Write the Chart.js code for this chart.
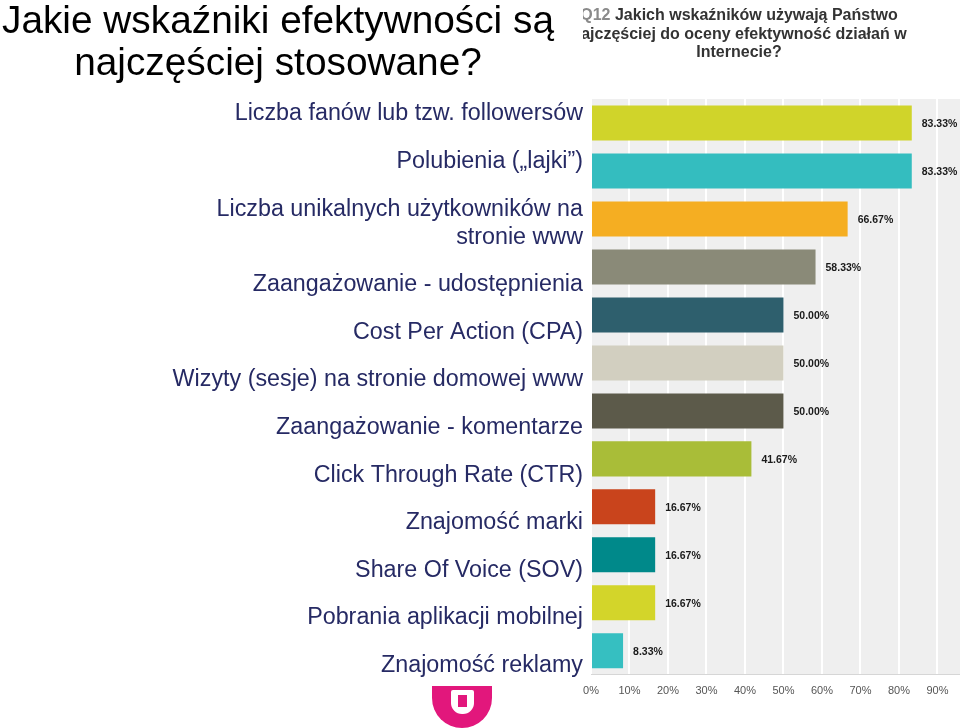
<!DOCTYPE html>
<html>
<head>
<meta charset="utf-8">
<script src="https://cdn.jsdelivr.net/npm/chart.js@4.4.1/dist/chart.umd.min.js"></script>
<style>
    html, body { margin: 0; padding: 0; background: #fff; overflow: hidden; width: 960px; height: 728px; }
    #wrap { position: absolute; left: 0; top: 0; width: 1000px; height: 728px; }
    #slideTitle {
        position: absolute; left: 0; top: -1px; width: 556px; text-align: center;
        font-family: "Liberation Sans", Arial, sans-serif; font-size: 38.8px; line-height: 42px; color: #000;
    }
</style>
</head>
<body>
<div id="wrap"><canvas id="myChart" width="1000" height="728"></canvas></div>
<div id="slideTitle">Jakie wskaźniki efektywności są<br>najczęściej stosowane?</div>
<script>
// data
const categories = [
    'Liczba fanów lub tzw. followersów',
    'Polubienia („lajki”)',
    ['Liczba unikalnych użytkowników na', 'stronie www'],
    'Zaangażowanie - udostępnienia',
    'Cost Per Action (CPA)',
    'Wizyty (sesje) na stronie domowej www',
    'Zaangażowanie - komentarze',
    'Click Through Rate (CTR)',
    'Znajomość marki',
    'Share Of Voice (SOV)',
    'Pobrania aplikacji mobilnej',
    'Znajomość reklamy'
];
const shares = [83.33, 83.33, 66.67, 58.33, 50.00, 50.00, 50.00, 41.67, 16.67, 16.67, 16.67, 8.33];
const barColors = ['#d0d42a', '#34bdbf', '#f5ae22', '#8a8a78', '#2e5f6d', '#d2cfc0',
    '#5c5a4a', '#a9bd38', '#c9441c', '#00898a', '#d3d52a', '#36bfc1'];
const surveyTitle = ['Jakich wskaźników używają Państwo', 'najczęściej do oceny efektywność działań w', 'Internecie?'];
const questionNo = 'Q12';

const FONT = '"Liberation Sans", Arial, sans-serif';

const plotBackground = {
    id: 'plotBackground',
    beforeDraw(chart)
    {
        const { ctx, chartArea } = chart;
        ctx.save();
        ctx.fillStyle = '#efefef';
        ctx.fillRect(chartArea.left, chartArea.top, chartArea.right - chartArea.left, chartArea.bottom - chartArea.top);
        ctx.restore();
    }
};

const valueLabels = {
    id: 'valueLabels',
    afterDatasetsDraw(chart)
    {
        const { ctx } = chart;
        ctx.save();
        ctx.font = 'bold 10.5px ' + FONT;
        ctx.fillStyle = '#1a1a1a';
        ctx.textBaseline = 'middle';
        chart.getDatasetMeta(0).data.forEach((bar, i) =>
        {
            ctx.fillText(shares[i].toFixed(2) + '%', bar.x + 10, bar.y + 1);
        });
        ctx.restore();
    }
};

// slide text box on the left, laid out as a paragraph flow
const slideLabels = {
    id: 'slideLabels',
    afterDraw(chart)
    {
        const { ctx, chartArea } = chart;
        ctx.save();
        ctx.font = '23.3px ' + FONT;
        ctx.fillStyle = '#262a64';
        ctx.textAlign = 'right';
        ctx.textBaseline = 'middle';
        let y = chartArea.top + 15;
        categories.forEach((label) =>
        {
            const lines = Array.isArray(label) ? label : [label];
            lines.forEach((line, j) =>
            {
                ctx.fillText(line, chartArea.left - 8, y + j * 28);
            });
            y += (lines.length - 1) * 28 + 47.6;
        });

        // screenshot heading, cut on the left by the slide title
        ctx.beginPath();
        ctx.rect(583, 0, 400, 90);
        ctx.clip();
        ctx.font = 'bold 16px ' + FONT;
        ctx.textAlign = 'left';
        const cx = 739;
        surveyTitle.forEach((line, i) =>
        {
            const y0 = 16 + i * 18.5;
            const w = ctx.measureText(line).width;
            let x = cx - w / 2;
            if (i === 0)
            {
                const qw = ctx.measureText(questionNo + ' ').width;
                x = cx - (w + qw) / 2;
                ctx.fillStyle = '#8a8a8a';
                ctx.fillText(questionNo, x, y0);
                x += qw;
            }
            ctx.fillStyle = '#333333';
            ctx.fillText(line, x, y0);
        });
        ctx.restore();

        // logo
        ctx.save();
        ctx.fillStyle = '#e2177c';
        ctx.beginPath();
        ctx.moveTo(432, 686);
        ctx.lineTo(492, 686);
        ctx.lineTo(492, 698);
        ctx.arc(462, 698, 30, 0, Math.PI);
        ctx.closePath();
        ctx.fill();
        ctx.fillStyle = '#ffffff';
        ctx.beginPath();
        ctx.roundRect(451, 690, 23, 24, [2, 2, 11, 11]);
        ctx.fill();
        ctx.fillStyle = '#e2177c';
        ctx.fillRect(458, 695, 9, 12);
        ctx.restore();
    }
};

new Chart(document.getElementById('myChart').getContext('2d'), {
    type: 'bar',
    data: {
        labels: categories,
        datasets: [
            {
                data: shares,
                backgroundColor: barColors,
                borderWidth: 0,
                barPercentage: 0.73,
                categoryPercentage: 1
            }
        ]
    },
    options: {
        indexAxis: 'y',
        responsive: false,
        animation: false,
        layout: {
            padding: { left: 591, right: 19, top: 99, bottom: 20 }
        },
        plugins: {
            legend: { display: false },
            tooltip: { enabled: false },
            title: { display: false }
        },
        scales: {
            x: {
                min: 0,
                max: 100,
                grid: {
                    color: '#ffffff',
                    lineWidth: 2,
                    drawTicks: false
                },
                border: { display: true, color: '#d6d6d6', width: 1 },
                ticks: {
                    stepSize: 10,
                    padding: 10,
                    color: '#555555',
                    font: { family: FONT, size: 11 },
                    callback: function (value)
                    {
                        return value + '%';
                    }
                }
            },
            y: {
                display: false
            }
        }
    },
    plugins: [plotBackground, valueLabels, slideLabels]
});
</script>
</body>
</html>
